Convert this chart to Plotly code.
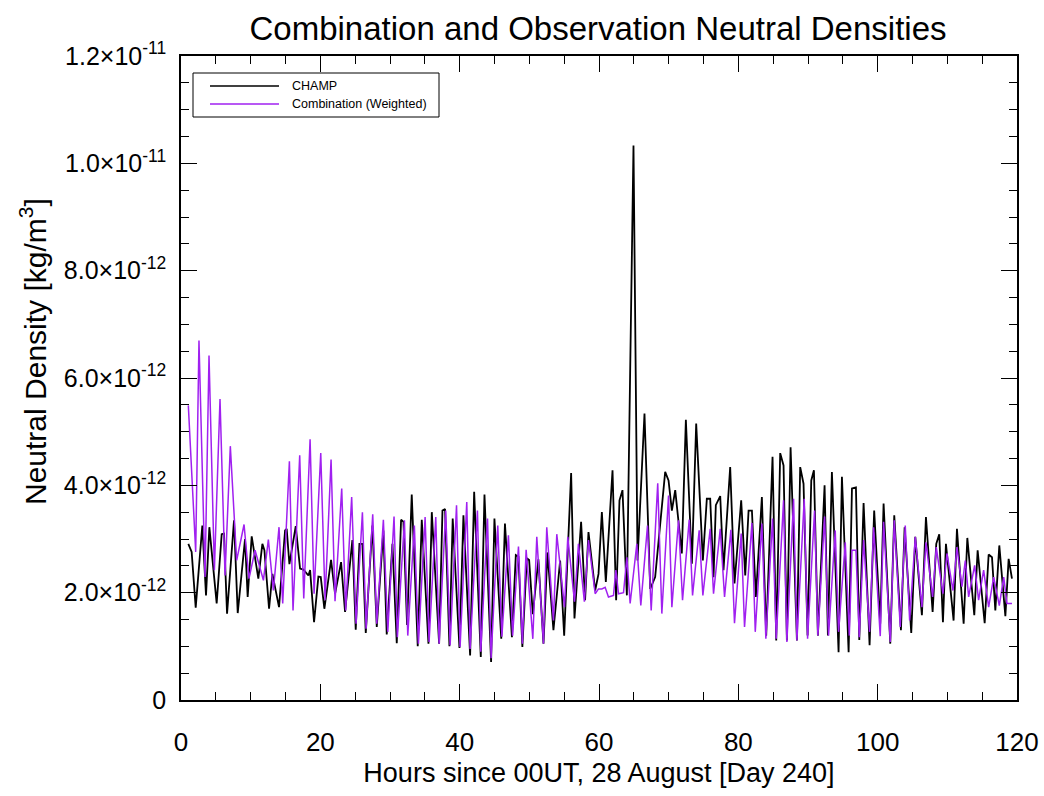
import plotly.graph_objects as go

# ---- data (density in units of 1e-12 kg/m^3, time in hours) ----
champ_hours = [
    1.05, 1.53, 2.11, 3.06, 3.59, 4.07, 5.12, 5.84, 6.17, 6.61, 7.61, 8.14, 9.19, 9.57,
    10.15, 10.63, 11.1, 11.68, 11.97, 12.64, 13.12, 14.07, 14.94, 15.17, 15.56, 16.47,
    17.09, 17.57, 18.29, 18.53, 19.1, 19.72, 20.06, 20.58, 21.54, 22.11, 22.98, 23.55,
    24.6, 25.08, 25.61, 26.04, 26.52, 27.47, 28.1, 29.05, 29.53, 30.35, 30.97, 31.59,
    31.93, 32.45, 33.12, 33.98, 34.56, 35.52, 36.0, 37.05, 37.53, 37.9, 38.53, 39.0,
    39.97, 40.54, 41.5, 42.08, 43.03, 43.56, 44.51, 44.99, 45.97, 46.5, 47.5, 48.06,
    48.44, 49.0, 49.64, 49.97, 50.5, 51.3, 52.03, 52.6, 53.46, 54.42, 55.0, 56.0, 56.48,
    57.43, 58.0, 58.49, 59.45, 59.93, 60.41, 60.98, 61.94, 62.46, 62.94, 63.37, 64.0,
    64.95, 65.53, 66.53, 67.35, 68.06, 69.5, 69.98, 70.46, 70.94, 71.89, 72.47, 73.33,
    73.95, 74.91, 75.48, 75.96, 76.44, 76.77, 77.4, 77.87, 78.83, 79.45, 80.41, 80.99,
    81.47, 81.95, 82.52, 83.38, 84.0, 84.91, 85.44, 86.01, 86.49, 86.97, 87.5, 88.41,
    88.88, 89.36, 89.94, 90.47, 90.85, 91.42, 92.38, 92.86, 93.43, 94.39, 94.87, 95.83,
    96.31, 96.88, 97.36, 97.98, 98.84, 99.5, 100.37, 100.85, 101.81, 102.38, 103.34,
    103.87, 104.82, 105.4, 106.35, 106.93, 107.89, 108.41, 108.84, 109.37, 109.8, 110.9,
    111.38, 112.34, 112.87, 113.87, 114.35, 115.36, 115.93, 116.41, 116.89, 117.46,
    118.33, 118.8, 119.28,
]
champ_density = [
    2.91, 2.76, 1.72, 3.25, 1.95, 3.22, 1.80, 3.09, 3.10, 1.61, 3.35, 1.62, 3.00, 1.92,
    3.05, 2.60, 2.26, 2.91, 2.79, 1.70, 2.35, 1.73, 3.16, 3.19, 2.53, 3.24,
    2.45, 2.43, 2.32, 2.42, 1.45, 2.30, 2.29, 1.70, 2.61, 1.98, 2.57, 1.64,
    2.98, 1.31, 2.91, 2.91, 1.25, 3.25, 1.36, 3.16, 1.22, 2.91, 1.06, 3.36,
    3.32, 1.40, 3.83, 1.00, 3.36, 1.05, 3.50, 1.05, 3.53, 3.56, 1.00, 3.38,
    0.97, 3.44, 0.83, 3.88, 0.80, 3.83, 0.71, 3.38, 1.14, 3.29, 1.17, 2.70,
    2.67, 0.99, 2.64, 2.61, 1.60, 2.62, 1.05, 2.75, 1.30, 2.60, 1.20, 4.23, 1.52,
    3.32, 1.86, 3.13, 2.04, 2.35, 3.50, 2.20, 4.28, 1.86, 3.72, 3.91, 1.95,
    10.33, 2.60, 5.34, 2.07, 2.29, 4.25, 4.09, 3.53, 3.91, 2.73, 5.22, 2.54,
    5.15, 2.60, 3.75, 3.75, 2.29, 3.63, 3.80, 2.42, 4.34, 2.17, 3.72, 2.32,
    3.53, 3.53, 1.92, 3.78, 1.20, 4.53, 1.11, 4.60, 4.37, 1.11, 4.71, 1.11,
    4.34, 4.03, 1.20, 4.09, 4.28, 1.20, 4.00, 1.20, 4.25, 0.89, 4.16, 0.89,
    3.94, 3.96, 1.12, 3.67, 1.02, 3.53, 1.42, 3.66, 1.05, 3.44, 1.30,
    3.22, 1.25, 3.04, 1.58, 3.41, 1.64, 2.91, 3.09, 1.45, 2.91, 1.48,
    3.19, 1.42, 3.02, 1.58, 2.79, 1.43, 2.71, 2.66, 1.67, 2.88,
    1.56, 2.63, 2.26,
]

comb_hours = [
    1.05, 2.11, 2.58, 3.45, 4.02, 4.79, 5.6, 6.32, 7.08, 7.99, 9.05, 9.76, 10.63, 11.83,
    12.54, 13.26, 14.07, 14.6, 15.56, 16.08, 17.04, 17.62, 18.53, 19.1, 20.06, 20.68,
    21.54, 22.11, 23.07, 23.64, 24.5, 25.13, 26.04, 26.57, 27.52, 28.1, 29.05, 29.68,
    30.58, 31.06, 32.07, 32.55, 33.5, 34.08, 35.04, 35.61, 36.57, 37.05, 38.0, 38.63,
    39.55, 40.06, 41.02, 41.5, 42.55, 43.03, 44.0, 44.51, 45.47, 46.06, 47.0, 47.6,
    48.44, 49.0, 49.54, 50.5, 51.07, 52.03, 52.5, 53.46, 53.94, 55.05, 55.52, 56.48,
    57.05, 57.9, 58.49, 59.45, 59.93, 60.41, 60.88, 61.36, 62.08, 62.42, 62.8, 63.52,
    64.0, 64.47, 65.43, 66.0, 66.96, 67.49, 68.43, 69.02, 69.98, 70.46, 71.41, 71.99,
    72.95, 73.43, 74.38, 74.91, 75.96, 76.44, 77.4, 78.02, 78.93, 79.45, 80.41, 80.89,
    81.95, 82.43, 83.38, 83.95, 84.91, 85.44, 86.49, 86.97, 87.93, 88.41, 89.46, 89.94,
    90.94, 91.42, 92.38, 92.95, 93.91, 94.39, 95.35, 95.93, 96.31, 96.88, 97.36, 97.98,
    98.84, 99.42, 100.37, 100.85, 101.81, 102.38, 103.24, 103.96, 104.59, 105.4, 106.35,
    106.93, 107.89, 108.41, 109.37, 109.95, 110.81, 111.38, 112.1, 112.58, 113.06,
    113.92, 114.49, 115.21, 115.93, 116.65, 117.46, 118.09, 118.56, 119.28,
]
comb_density = [
    5.49, 2.76, 6.70, 2.29, 6.42, 2.42, 5.61, 2.32, 4.73, 2.60, 3.27, 2.26, 2.79, 2.23,
    2.99, 2.04, 3.22, 1.80, 4.45, 1.67, 4.56, 1.89, 4.86, 1.98, 4.60, 1.86,
    4.48, 1.84, 3.94, 1.67, 3.78, 1.42, 3.50, 1.33, 3.46, 1.42, 3.36, 1.27,
    3.42, 1.17, 3.35, 1.20, 3.25, 1.05, 3.41, 1.08, 3.41, 1.05, 3.53, 1.02,
    3.63, 0.99, 3.69, 0.95, 3.53, 0.90, 3.38, 0.78, 3.25, 1.18, 3.07, 1.20,
    2.86, 1.05, 2.80, 1.14, 3.04, 1.05, 3.22, 1.48, 3.09, 1.73, 3.04, 1.83,
    2.91, 1.83, 2.98, 1.98, 2.07, 2.07, 2.10, 1.92, 1.95, 2.42, 1.98, 2.00,
    2.66, 1.80, 2.91, 1.76, 3.25, 1.67, 4.04, 1.61, 3.81, 1.73, 3.35, 1.86,
    3.36, 1.95, 3.16, 1.95, 3.19, 1.98, 3.19, 1.92, 3.17, 1.43, 3.10, 1.36,
    3.30, 1.27, 3.29, 1.14, 3.38, 1.14, 3.72, 1.08, 3.75, 1.11, 3.75, 1.14,
    3.53, 1.20, 3.42, 1.20, 3.16, 1.27, 2.94, 1.20, 2.79, 2.79, 1.17, 2.98,
    1.27, 3.22, 1.19, 3.32, 1.08, 3.35, 1.36, 3.25, 1.48, 3.04, 1.73,
    2.94, 1.92, 2.85, 1.98, 2.73, 2.04, 2.85, 2.11, 2.60, 1.92,
    2.51, 1.86, 2.42, 1.73, 2.29, 1.76, 2.29, 1.80, 1.80,
]

y_tickvals = [0, 2, 4, 6, 8, 10, 12]
y_ticktext = ["0", "2.0×10<sup>-12</sup>", "4.0×10<sup>-12</sup>", "6.0×10<sup>-12</sup>",
              "8.0×10<sup>-12</sup>", "1.0×10<sup>-11</sup>", "1.2×10<sup>-11</sup>"]
x_tickvals = [0, 20, 40, 60, 80, 100, 120]

series_names = ["CHAMP", "Combination (Weighted)"]
series_colors = ["#000000", "#A020F0"]

SANS = "Liberation Sans, Arial, Helvetica, sans-serif"

fig = go.Figure()
fig.add_trace(go.Scatter(x=champ_hours, y=champ_density, mode="lines", name=series_names[0],
                         line=dict(color=series_colors[0], width=1.8), showlegend=False))
fig.add_trace(go.Scatter(x=comb_hours, y=comb_density, mode="lines", name=series_names[1],
                         line=dict(color=series_colors[1], width=1.5), showlegend=False))

L, R, T, B = 181, 27, 56, 96
W, H = 1044, 796
pw, ph = W - L - R, H - T - B
def px(xp):
    return (xp - L) / pw
def py(yp):
    return (H - B - yp) / ph

# manual legend
shapes = [dict(type="rect", xref="paper", yref="paper", x0=px(193), x1=px(439), y0=py(117), y1=py(73),
               line=dict(color="black", width=1), fillcolor="white", layer="above")]
annotations = []
for i, (nm, col) in enumerate(zip(series_names, series_colors)):
    yy = py(86 + 18 * i)
    shapes.append(dict(type="line", xref="paper", yref="paper", x0=px(210), x1=px(279), y0=yy, y1=yy,
                       line=dict(color=col, width=1.4), layer="above"))
    annotations.append(dict(xref="paper", yref="paper", x=px(290), y=yy, xanchor="left", yanchor="middle",
                            text=nm, showarrow=False, font=dict(family=SANS, size=12.5, color="black")))

# y-axis title as rotated annotation
annotations.append(dict(xref="paper", yref="paper", x=px(33), y=py(352), xanchor="center", yanchor="middle",
                        textangle=-90, showarrow=False, text="Neutral Density [kg/m<sup>3</sup>]",
                        font=dict(family=SANS, size=30, color="black")))

axis_common = dict(showline=True, linecolor="black", linewidth=1.5, mirror="allticks",
                   showgrid=False, zeroline=False, ticks="inside", tickcolor="black", tickwidth=1.3)

fig.update_layout(
    width=W, height=H,
    margin=dict(l=L, r=R, t=T, b=B, autoexpand=False),
    paper_bgcolor="white", plot_bgcolor="white",
    title=dict(text="Combination and Observation Neutral Densities", x=px(598), xref="paper",
               xanchor="center", y=1 - 28 / H, yanchor="middle", yref="container",
               font=dict(family=SANS, size=33, color="black")),
    xaxis=dict(range=[0, 120], tickmode="array", tickvals=x_tickvals, ticklen=16,
               minor=dict(dtick=5, tick0=0, ticklen=8, ticks="inside", tickcolor="black", tickwidth=1.3),
               tickfont=dict(family=SANS, size=26, color="black"), ticklabelstandoff=18,
               title=dict(text="Hours since 00UT, 28 August [Day 240]", standoff=7,
                          font=dict(family=SANS, size=27, color="black")),
               **axis_common),
    yaxis=dict(range=[0, 12], tickmode="array", tickvals=y_tickvals, ticktext=y_ticktext, ticklen=16,
               minor=dict(dtick=0.5, tick0=0, ticklen=8, ticks="inside", tickcolor="black", tickwidth=1.3),
               tickfont=dict(family=SANS, size=25, color="black"), ticklabelstandoff=8,
               **axis_common),
    shapes=shapes, annotations=annotations,
)

fig.write_html("out.html")
